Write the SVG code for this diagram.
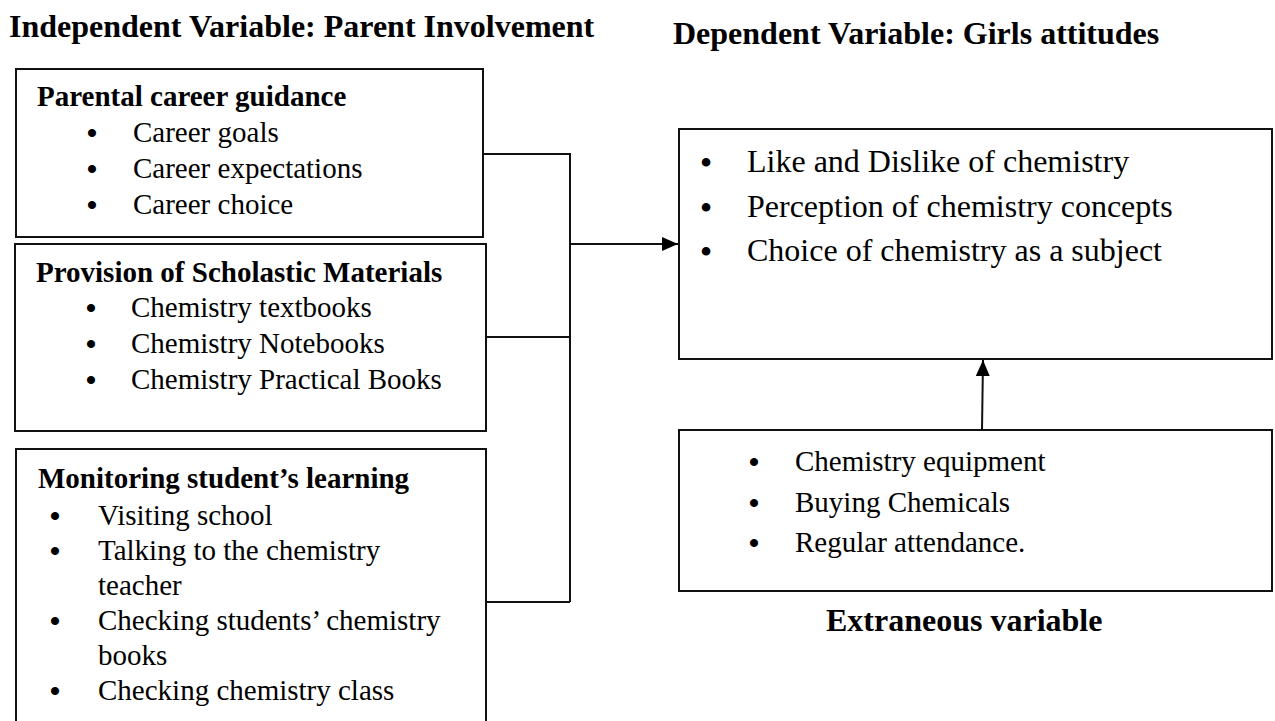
<svg xmlns="http://www.w3.org/2000/svg" width="1275" height="721" viewBox="0 0 1275 721">
<style>
text{font-family:"Liberation Serif","Times New Roman",serif;fill:#000}
.t{font-size:32px;font-weight:bold}
.h{font-size:29px;font-weight:bold}
.i{font-size:29px}
.d{font-size:32px}
.b{text-anchor:middle;font-size:30px;font-weight:bold}
.bd{text-anchor:middle;font-size:36px}
.box{fill:#fff;stroke:#111;stroke-width:2}
.ln{fill:none;stroke:#111;stroke-width:2}
</style>
<defs>
<marker id="ah" viewBox="0 0 16 14" refX="16" refY="7" markerWidth="16" markerHeight="14" markerUnits="userSpaceOnUse" orient="auto">
<path d="M0,0 L16,7 L0,14 Z" fill="#000"/>
</marker>
</defs>
<text class="t" x="9" y="37">Independent Variable: Parent Involvement</text>
<text class="t" x="673" y="44">Dependent Variable: Girls attitudes</text>
<g id="connectors">
<polyline class="ln" points="483,154 570,154 570,602"/>
<line class="ln" x1="486" y1="337" x2="570" y2="337"/>
<line class="ln" x1="486" y1="602" x2="570" y2="602"/>
<line class="ln" x1="570" y1="244" x2="678" y2="244" marker-end="url(#ah)"/>
<line class="ln" x1="982" y1="430" x2="983" y2="360" marker-end="url(#ah)"/>
</g>
<g id="career">
<rect class="box" x="16" y="69" width="467" height="168"/>
<text class="h" x="37" y="106">Parental career guidance</text>
<text class="b" x="92" y="143">•</text><text class="i" x="133" y="142">Career goals</text>
<text class="b" x="92" y="179">•</text><text class="i" x="133" y="178">Career expectations</text>
<text class="b" x="92" y="215">•</text><text class="i" x="133" y="214">Career choice</text>
</g>
<g id="materials">
<rect class="box" x="15" y="244" width="471" height="187"/>
<text class="h" x="36" y="282">Provision of Scholastic Materials</text>
<text class="b" x="91" y="318">•</text><text class="i" x="131" y="317">Chemistry textbooks</text>
<text class="b" x="91" y="354">•</text><text class="i" x="131" y="353">Chemistry Notebooks</text>
<text class="b" x="91" y="390">•</text><text class="i" x="131" y="389">Chemistry Practical Books</text>
</g>
<g id="monitoring">
<rect class="box" x="16" y="449" width="470" height="300"/>
<text class="h" x="38" y="488">Monitoring student’s learning</text>
<text class="b" x="55" y="526">•</text><text class="i" x="98" y="525">Visiting school</text>
<text class="b" x="55" y="561">•</text><text class="i" x="98" y="560">Talking to the chemistry</text>
<text class="i" x="98" y="595">teacher</text>
<text class="b" x="55" y="631">•</text><text class="i" x="98" y="630">Checking students’ chemistry</text>
<text class="i" x="98" y="665">books</text>
<text class="b" x="55" y="701">•</text><text class="i" x="98" y="700">Checking chemistry class</text>
</g>
<g id="dependent">
<rect class="box" x="679" y="129" width="593" height="230"/>
<text class="bd" x="706" y="175">•</text><text class="d" x="747" y="172">Like and Dislike of chemistry</text>
<text class="bd" x="706" y="220">•</text><text class="d" x="747" y="217">Perception of chemistry concepts</text>
<text class="bd" x="706" y="264">•</text><text class="d" x="747" y="261">Choice of chemistry as a subject</text>
</g>
<g id="extraneous">
<rect class="box" x="679" y="430" width="593" height="161"/>
<text class="b" x="754" y="472">•</text><text class="i" x="795" y="471">Chemistry equipment</text>
<text class="b" x="754" y="513">•</text><text class="i" x="795" y="512">Buying Chemicals</text>
<text class="b" x="754" y="553">•</text><text class="i" x="795" y="552">Regular attendance.</text>
<text class="t" x="826" y="631">Extraneous variable</text>
</g>
</svg>
